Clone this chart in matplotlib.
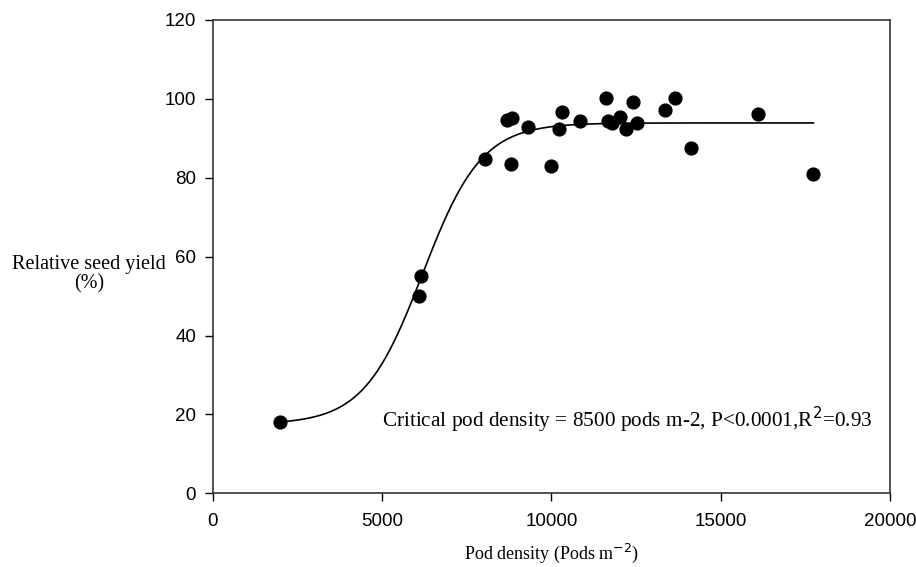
import numpy as np
import matplotlib.pyplot as plt

# observed points
pod_density = np.array([2000, 6150, 6100, 8030, 8680, 8830, 8820, 9320, 9980, 10230,
                        10320, 10860, 11610, 11680, 11800, 12040, 12420, 12200, 12530,
                        13370, 13660, 14130, 16110, 17720])
rel_yield = np.array([18.2, 55.1, 50.0, 84.8, 94.7, 95.1, 83.5, 92.9, 83.1, 92.4,
                      96.8, 94.3, 100.2, 94.3, 94.0, 95.5, 99.1, 92.4, 93.8,
                      97.1, 100.2, 87.5, 96.2, 81.0])

# fitted sigmoid (lower, upper, midpoint, slope)
y_low, y_high, x_mid, x_scale = 17.5, 93.9, 6200, 870
fit_start, fit_end = 2000, 17740

x_ticks = [0, 5000, 10000, 15000, 20000]
y_ticks = [0, 20, 40, 60, 80, 100, 120]

serif = ['Liberation Serif', 'DejaVu Serif']
plt.rcParams['font.family'] = ['Liberation Sans', 'DejaVu Sans']

fig = plt.figure(figsize=(9.16, 5.67), dpi=100)
ax = fig.add_axes([212.7/916, 1-493.3/567, (890-212.7)/916, (493.3-20)/567])

xf = np.linspace(fit_start, fit_end, 400)
yf = y_low + (y_high - y_low) / (1 + np.exp(-(xf - x_mid) / x_scale))
ax.plot(xf, yf, color='black', lw=1.2)
ax.scatter(pod_density, rel_yield, s=85, color='black', zorder=3)

ax.set_xlim(0, 20000)
ax.set_ylim(0, 120)
ax.set_xticks(x_ticks)
ax.set_yticks(y_ticks)
ax.tick_params(direction='out', length=5.5, width=1, pad=6.5, labelsize=13.5, colors='black')
ax.tick_params(axis='x', pad=8.5)
for s in ax.spines.values():
    s.set_color('#333333')
    s.set_linewidth(1.2)

ax.text(5000, 18.5, 'Critical pod density = 8500 pods m-2, P<0.0001,R$^2$=0.93',
        family=serif, fontsize=15.3, va='center', ha='left')

ax.set_xlabel('Pod density (Pods m$^{-2}$)', family=serif, fontsize=13, labelpad=9)
fig.text(89/916, 1-274/567, 'Relative seed yield\n(%)', family=serif, fontsize=14.5,
         ha='center', va='center', linespacing=1.0)

fig.savefig('out.png', dpi=100)
